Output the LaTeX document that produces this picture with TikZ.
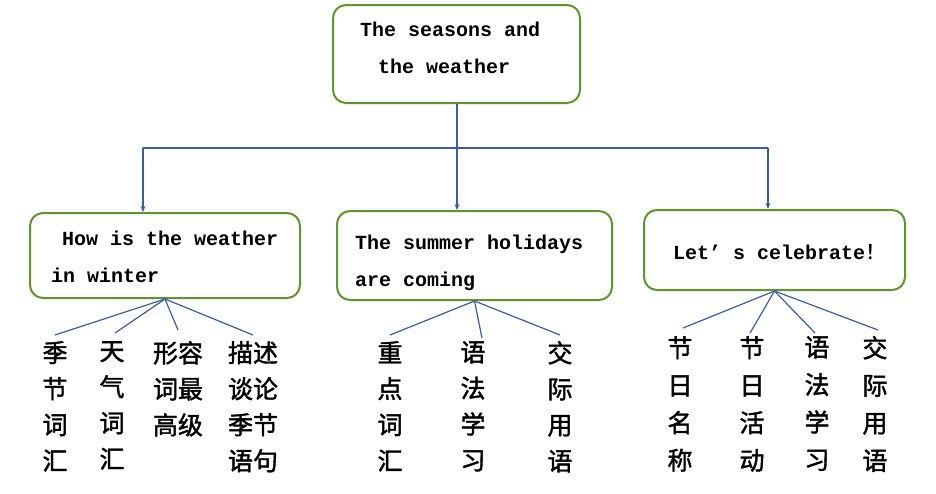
\documentclass[tikz,border=0pt]{standalone}
\usepackage{fontspec}
\setmainfont{Liberation Mono}
\newfontfamily\cjk[AutoFakeBold=1.6]{Noto Sans CJK SC}
\usetikzlibrary{arrows.meta}
\definecolor{boxgreen}{HTML}{5E962C}
\definecolor{linkblue}{HTML}{3D5CA8}
\begin{document}
\begin{tikzpicture}[x=1pt,y=-1pt,
  topic/.style={draw=boxgreen,line width=2pt,rounded corners=13pt,fill=white,inner sep=0},
  eng/.style={anchor=base west,inner sep=0,font=\bfseries\fontsize{20}{24}\selectfont},
  col/.style={anchor=north,inner sep=0,align=center,font=\cjk\bfseries\fontsize{25}{36}\selectfont},
  colr/.style={col,font=\cjk\bfseries\fontsize{25}{37.5}\selectfont},
  link/.style={draw=linkblue,line width=1.2pt},
  arr/.style={link,-{Stealth[length=6pt,width=5pt]}}]
\path[use as bounding box,fill=white] (0,0) rectangle (936,493);

% boxes
\node[topic,minimum width=247pt,minimum height=98pt] (top) at (456.5,54) {};
\node[topic,minimum width=270pt,minimum height=85pt] (L) at (165,255.5) {};
\node[topic,minimum width=275pt,minimum height=89pt] (M) at (474.5,255.5) {};
\node[topic,minimum width=261pt,minimum height=80pt] (R) at (774.5,250) {};

% box texts
\node[eng] (t1) at (360,36) {The seasons and};
\node[eng] (t2) at (378,73) {the weather};
\node[eng] (l1) at (62,245) {How is the weather};
\node[eng] (l2) at (51,282) {in winter};
\node[eng] (m1) at (355,249) {The summer holidays};
\node[eng] (m2) at (355,286) {are coming};
\node[eng] (r1) at (673,259) {Let’ s celebrate{\cjk ！}};

% connectors from the top box
\coordinate (jM) at (457,148);
\coordinate (jL) at (143,148);
\coordinate (jR) at (768,148);
\draw[link] (top.south -| jM) -- (jM);
\draw[link] (jL) -- (jR);
\draw[arr] (jL) -- (jL |- L.north);
\draw[arr] (jM) -- (jM |- M.north);
\draw[arr] (jR) -- (jR |- R.north);

% Chinese columns
\node[col] (c1) at (55,341) {季\\节\\词\\汇};
\node[col] (c2) at (112,341) {天\\气\\词\\汇};
\node[col] (c3) at (178,341) {形容\\词最\\高级};
\node[col] (c4) at (253,341) {描述\\谈论\\季节\\语句};

\node[col] (d1) at (390,341) {重\\点\\词\\汇};
\node[col] (d2) at (473,341) {语\\法\\学\\习};
\node[col] (d3) at (560,341) {交\\际\\用\\语};

\node[colr] (e1) at (680,336) {节\\日\\名\\称};
\node[colr] (e2) at (752,336) {节\\日\\活\\动};
\node[colr] (e3) at (817,336) {语\\法\\学\\习};
\node[colr] (e4) at (875,336) {交\\际\\用\\语};

% fans
\draw[link] (L.south) -- ([yshift=6pt]c1.north);
\draw[link] (L.south) -- ([xshift=3pt,yshift=8pt]c2.north);
\draw[link] (L.south) -- ([yshift=11pt]c3.north);
\draw[link] (L.south) -- ([yshift=6pt]c4.north);

\draw[link] (M.south) -- ([yshift=6pt]d1.north);
\draw[link] (M.south) -- ([xshift=9pt,yshift=3pt]d2.north);
\draw[link] (M.south) -- ([yshift=6pt]d3.north);

\draw[link] (R.south) -- ([xshift=3pt,yshift=8pt]e1.north);
\draw[link] (R.south) -- ([xshift=-2pt,yshift=3pt]e2.north);
\draw[link] (R.south) -- ([xshift=-2pt,yshift=3pt]e3.north);
\draw[link] (R.south) -- ([xshift=3pt,yshift=6pt]e4.north);
\end{tikzpicture}
\end{document}
